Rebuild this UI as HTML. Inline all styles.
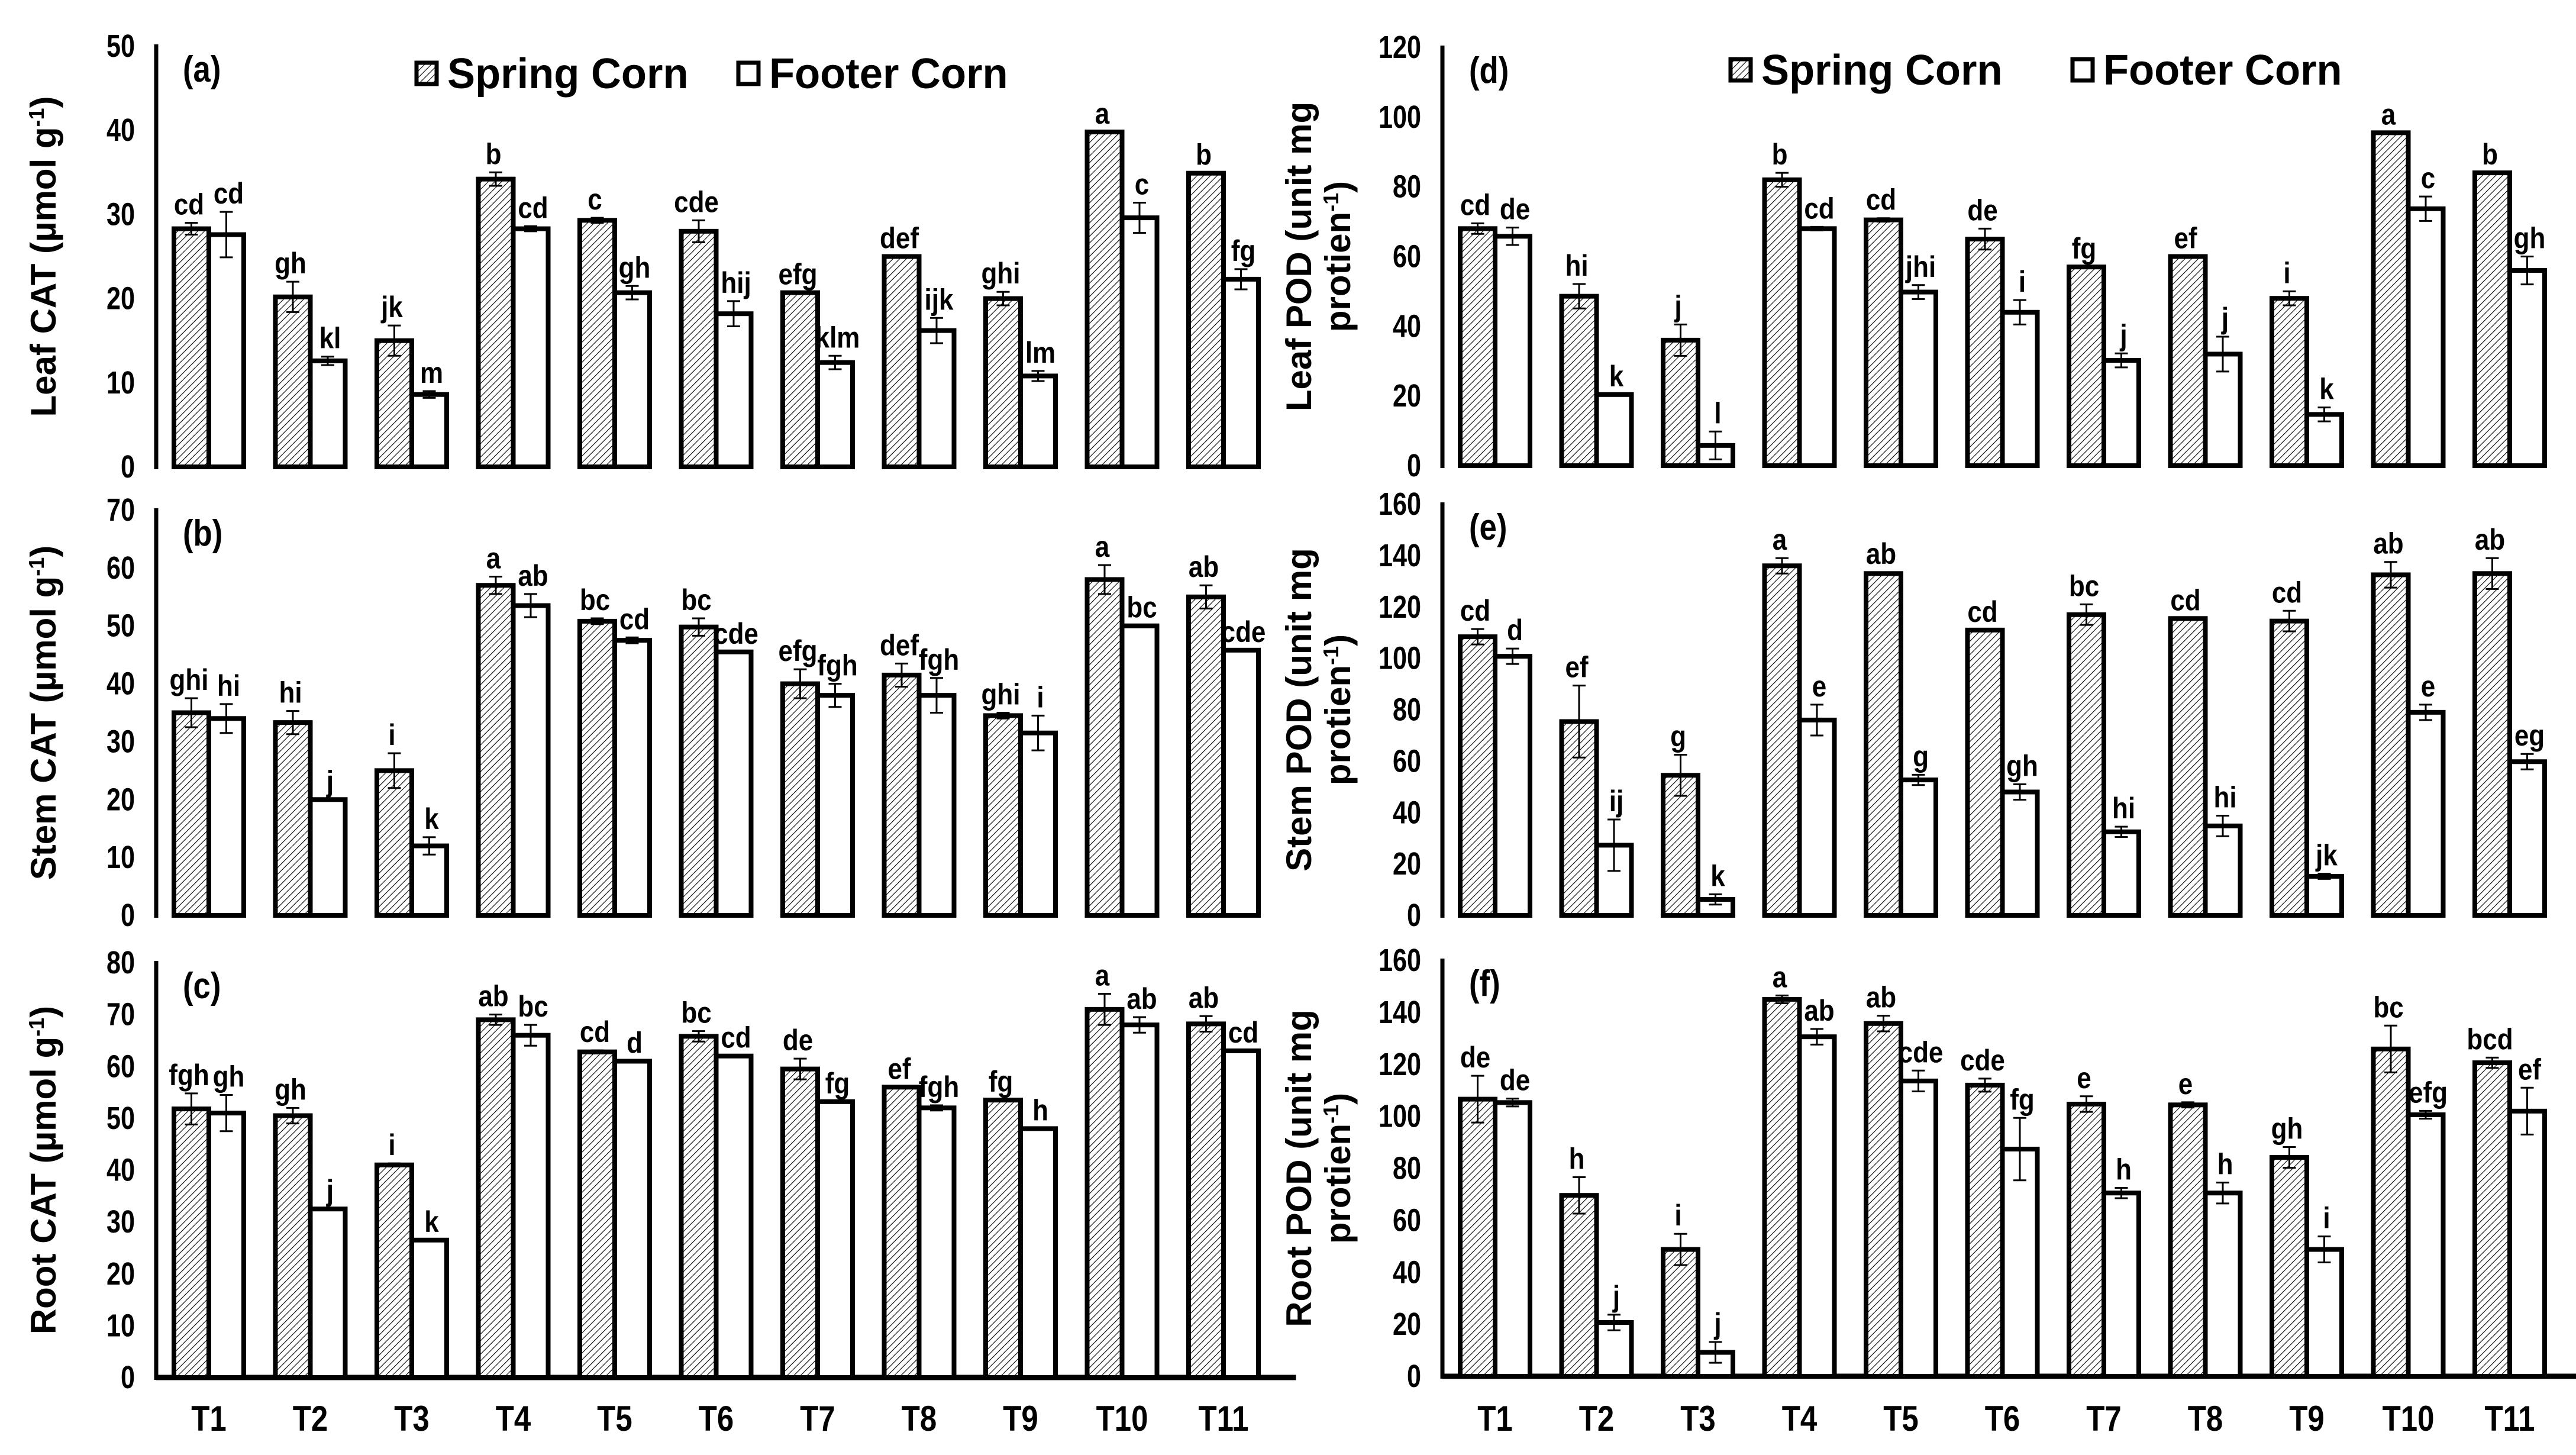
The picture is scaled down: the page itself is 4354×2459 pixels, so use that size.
<!DOCTYPE html>
<html><head><meta charset="utf-8"><style>
html,body{margin:0;padding:0;background:#fff;}
svg{display:block;}
text{font-family:"Liberation Sans",Arial,sans-serif;font-weight:bold;fill:#000;}
</style></head>
<body>
<svg id="chart" width="4354" height="2459" viewBox="0 0 4354 2459" xmlns="http://www.w3.org/2000/svg">
<defs>
<pattern id="hatch" patternUnits="userSpaceOnUse" width="8" height="8" patternTransform="rotate(45)">
<rect width="8" height="8" fill="#fff"/>
<line x1="0" y1="0" x2="0" y2="8" stroke="#000" stroke-width="2.2"/>
</pattern>
</defs>
</svg>
<script>
const categories = ["T1","T2","T3","T4","T5","T6","T7","T8","T9","T10","T11"];

const aSpring = [28.3,20.2,15,34.2,29.3,28,20.7,25,20,39.8,34.9];
const aFooter = [27.6,12.6,8.6,28.3,20.7,18.2,12.4,16.2,10.8,29.6,22.3];
const aSpringErr = [0.7,1.8,1.8,0.8,0.3,1.3,0,0,0.8,0,0];
const aFooterErr = [2.7,0.5,0.4,0.3,0.8,1.5,0.8,1.5,0.6,1.8,1.2];
const aSpringLet = ["cd","gh","jk","b","c","cde","efg","def","ghi","a","b"];
const aFooterLet = ["cd","kl","m","cd","gh","hij","klm","ijk","lm","c","fg"];

const bSpring = [35,33.3,25,57,50.8,49.8,40,41.5,34.5,58,55];
const bFooter = [34,20,12,53.5,47.5,45.5,38,38,31.5,50,45.8];
const bSpringErr = [2.5,2,3,1.5,0.5,1.5,2.5,2,0.5,2.5,2];
const bFooterErr = [2.5,0,1.5,2,0.5,0,2,3,3,0,0];
const bSpringLet = ["ghi","hi","i","a","bc","bc","efg","def","ghi","a","ab"];
const bFooterLet = ["hi","j","k","ab","cd","cde","fgh","fgh","i","bc","cde"];

const cSpring = [51.8,50.5,41,69,62.8,65.8,59.5,56,53.5,71,68.2];
const cFooter = [51,32.5,26.5,66,61,62,53.2,52,48,68,63];
const cSpringErr = [3,1.5,0.3,1,0.3,1,2,0,0,3,1.5];
const cFooterErr = [3.5,0,0,2,0,0,0,0.5,0,1.5,0];
const cSpringLet = ["fgh","gh","i","ab","cd","bc","de","ef","fg","a","ab"];
const cFooterLet = ["gh","j","k","bc","d","cd","fg","fgh","h","ab","cd"];

const dSpring = [68,48.6,36,82,70.5,65,57,60,48,95.5,84];
const dFooter = [65.8,20.4,5.8,68,49.8,44,30.2,32,14.7,73.7,56];
const dSpringErr = [1.5,3.5,4.5,2,0.5,3,0,0,2,0,0];
const dFooterErr = [2.5,0,4,0.5,2,3.5,2,5,2,3.5,4];
const dSpringLet = ["cd","hi","j","b","cd","de","fg","ef","i","a","b"];
const dFooterLet = ["de","k","l","cd","jhi","i","j","j","k","c","gh"];

const eSpring = [108.4,75.4,54.5,136,133,111,117,115.5,114.5,132.5,133];
const eFooter = [100.8,27.3,6.2,76,52.7,48,32.5,34.8,15.2,79,59.8];
const eSpringErr = [3,14,8,3,0.5,0,4,0,4,5,6];
const eFooterErr = [3,10,2,6,2,3,2,4,1,3,3];
const eSpringLet = ["cd","ef","g","a","ab","cd","bc","cd","cd","ab","ab"];
const eFooterLet = ["d","ij","k","e","g","gh","hi","hi","jk","e","eg"];

const fSpring = [106.6,69.6,48.8,145,135.7,112,104.7,104.4,84.2,125.9,120.6];
const fFooter = [105.3,20.7,9.2,130.6,113.6,87.4,70.5,70.5,48.8,100.6,102];
const fSpringErr = [9,7,6,1.5,3,2.5,3,1,4,9,2];
const fFooterErr = [1.5,3,4,3,4,12,2,4,5,1.5,9];
const fSpringLet = ["de","h","i","a","ab","cde","e","e","gh","bc","bcd"];
const fFooterLet = ["de","j","j","ab","cde","fg","h","h","i","efg","ef"];

const aTicks = [0,10,20,30,40,50];
const bTicks = [0,10,20,30,40,50,60,70];
const cTicks = [0,10,20,30,40,50,60,70,80];
const dTicks = [0,20,40,60,80,100,120];
const eTicks = [0,20,40,60,80,100,120,140,160];
const fTicks = [0,20,40,60,80,100,120,140,160];

const NS = "http://www.w3.org/2000/svg";
const svg = document.getElementById("chart");
function mk(tag, attrs, parent){
  const e = document.createElementNS(NS, tag);
  for (const k in attrs) e.setAttribute(k, attrs[k]);
  (parent || svg).appendChild(e);
  return e;
}
function txt(str, x, y, size, anchor, parent, sx){
  const t = mk("text", {"font-size": size, "text-anchor": anchor || "middle",
    transform: "translate(" + x + "," + y + ") scale(" + (sx || 0.88) + ",1)"}, parent);
  t.textContent = str;
  return t;
}

function panel(id, axisX, yTop, yZero, ticks, sp, ft, spE, ftE, spL, ftL, title, label, showX, showCats){
  const g = mk("g", {});
  
  
  const max = ticks[ticks.length - 1];
  const y = v => yZero - (v / max) * (yZero - yTop);
  const pitch = 171.5, bw = 59, off = 30;
  const xb = i => axisX + off + i * pitch;

  ticks.forEach(t => {
    const tl = txt(String(t), axisX - 36, y(t) + 18, 54, "end", g, 0.8);
    
    
  });
  const ya = mk("line", {x1: axisX, y1: yTop - 3, x2: axisX, y2: yZero + 4, stroke: "#000", "stroke-width": 7}, g);
  
  
  if (showX) {
    const xa = mk("line", {x1: axisX, y1: yZero, x2: axisX + off + 11 * pitch + 10, y2: yZero, stroke: "#000", "stroke-width": 9}, g);
    
    
  }
  function bar(i, v, e, l, dx, fill, nm){
    const x = xb(i) + dx;
    const r = mk("rect", {x: x, y: y(v), width: bw, height: yZero - y(v), fill: fill, stroke: "#000", "stroke-width": 8}, g);
    
    
    const cx = x + bw / 2;
    if (e > 0) {
      const eb = mk("path", {d: "M" + cx + "," + y(v + e) + "V" + y(v - e) + "M" + (cx - 11) + "," + y(v + e) + "H" + (cx + 11) + "M" + (cx - 11) + "," + y(v - e) + "H" + (cx + 11), stroke: "#000", "stroke-width": 3, fill: "none"}, g);
      
      
    }
    const lt = txt(l, cx + (dx > 0 ? 4 : -4), y(v + e) - 14, 50, "middle", g, 0.88);
    
    
  }
  categories.forEach((c, i) => {
    bar(i, sp[i], spE[i], spL[i], 0, "url(#hatch)", "spring");
    bar(i, ft[i], ftE[i], ftL[i], bw, "#fff", "footer");
    if (showCats) {
      const ct = txt(c, xb(i) + bw, 2418, 60, "middle", g, 0.85);
      
      
    }
  });
  const pl = txt(label, axisX + 45, yTop + 60, 62, "start", g, 0.85);
  
  
  const cy = (yTop + yZero) / 2;
  const tg = mk("text", {"font-size": 60, "text-anchor": "middle", transform: "translate(" + (title.length === 1 ? axisX - 170 : axisX - 222) + "," + cy + ") rotate(-90)"}, g);
  
  
  title.forEach((ln, k) => {
    const ts = mk("tspan", {x: 0, dy: k === 0 ? 0 : 66}, tg);
    ts.textContent = ln[0];
    if (ln[1]) {
      const sup = mk("tspan", {"font-size": 36, dy: -20}, tg);
      sup.textContent = ln[1];
      const rest = mk("tspan", {dy: 20}, tg);
      rest.textContent = ln[2];
    }
  });
}

panel("a", 264, 78, 789, aTicks, aSpring, aFooter, aSpringErr, aFooterErr, aSpringLet, aFooterLet, [["Leaf CAT (µmol g","-1",")"]], "(a)", false, false);
panel("b", 264, 862, 1547, bTicks, bSpring, bFooter, bSpringErr, bFooterErr, bSpringLet, bFooterLet, [["Stem CAT (µmol g","-1",")"]], "(b)", false, false);
panel("c", 264, 1627, 2328, cTicks, cSpring, cFooter, cSpringErr, cFooterErr, cSpringLet, cFooterLet, [["Root CAT (µmol g","-1",")"]], "(c)", true, true);
panel("d", 2438, 80, 787, dTicks, dSpring, dFooter, dSpringErr, dFooterErr, dSpringLet, dFooterLet, [["Leaf POD (unit mg"],["protien","-1",")"]], "(d)", false, false);
panel("e", 2438, 852, 1547, eTicks, eSpring, eFooter, eSpringErr, eFooterErr, eSpringLet, eFooterLet, [["Stem POD (unit mg"],["protien","-1",")"]], "(e)", false, false);
panel("f", 2438, 1623, 2326, fTicks, fSpring, fFooter, fSpringErr, fFooterErr, fSpringLet, fFooterLet, [["Root POD (unit mg"],["protien","-1",")"]], "(f)", true, true);

function legend(x1, x2, yc){
  const items = [[x1, "url(#hatch)", "Spring Corn"], [x2, "#fff", "Footer Corn"]];
  items.forEach(it => {
    const g = mk("g", {});
    
    
    mk("rect", {x: it[0], y: yc - 18, width: 34, height: 36, fill: it[1], stroke: "#000", "stroke-width": 7}, g);
    txt(it[2], it[0] + 52, yc + 25, 72, "start", g, 0.98);
  });
}
legend(704, 1248, 124);
legend(2925, 3503, 118);
</script>
</body></html>
